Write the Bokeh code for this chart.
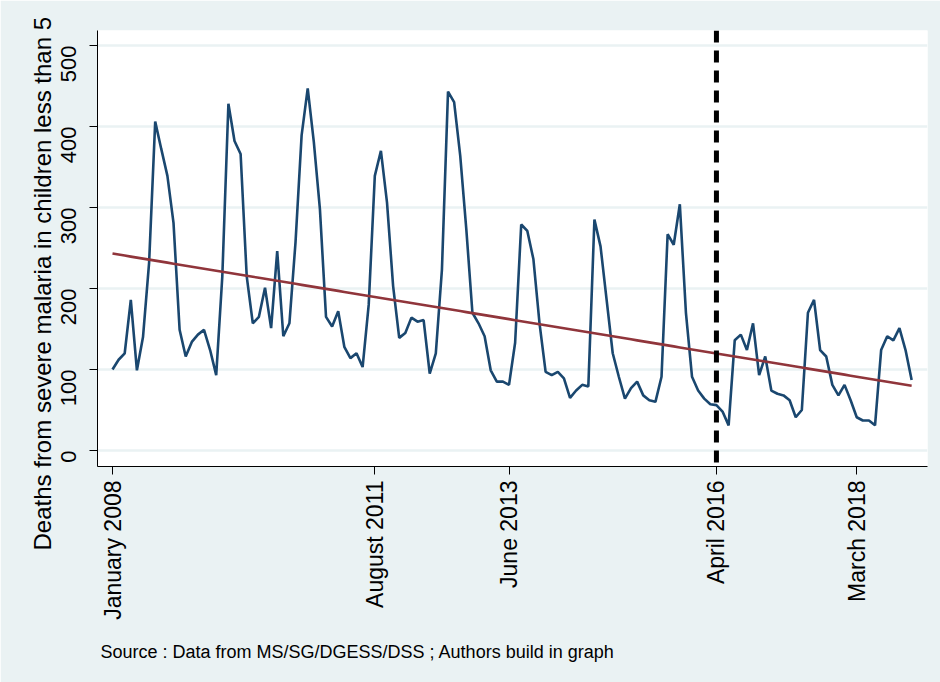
import numpy as np
from math import pi
from bokeh.plotting import figure
from bokeh.models import Span, Title, FixedTicker, Range1d
from bokeh.embed import file_html
from bokeh.resources import INLINE

# Monthly deaths from severe malaria in children under 5, January 2008 - December 2018
deaths = [100, 112, 120, 186, 99, 140, 232, 406, 372, 339, 281, 149,
          116, 134, 143, 149, 124, 93, 215, 428, 382, 366, 215, 157,
          165, 201, 151, 246, 141, 157, 257, 389, 447, 381, 298, 165,
          153, 172, 128, 114, 120, 103, 180, 339, 370, 306, 203, 139,
          145, 164, 159, 161, 95, 120, 223, 443, 430, 364, 273, 170,
          157, 141, 99, 85, 85, 81, 133, 279, 271, 236, 157, 97,
          93, 97, 89, 65, 74, 81, 79, 285, 252, 186, 120, 91,
          64, 77, 85, 68, 62, 60, 91, 267, 254, 304, 170, 91,
          74, 64, 57, 56, 48, 31, 136, 143, 124, 157, 93, 116,
          74, 70, 68, 62, 41, 50, 170, 186, 124, 116, 81, 68,
          81, 62, 41, 37, 37, 31, 124, 141, 136, 151, 124, 87]
months = list(range(len(deaths)))  # 0 = January 2008

tick_months = [0, 43, 65, 99, 122]
tick_labels = ["January 2008", "August 2011", "June 2013", "April 2016", "March 2018"]
y_ticks = [0, 100, 200, 300, 400, 500]
intervention_month = 99  # April 2016

y_title = "Deaths from severe malaria in children less than 5"
source_note = "Source : Data from MS/SG/DGESS/DSS ; Authors build in graph"

# Linear trend fitted to the series
slope, intercept = np.polyfit(months, deaths, 1)
trend = [intercept + slope * m for m in months]

BG = "#EAF2F3"
FONT = "Liberation Sans"

p = figure(width=940, height=682, output_backend="svg", toolbar_location=None,
           x_range=Range1d(-2.46, 133.6), y_range=Range1d(-19.8, 518.5),
           min_border_left=97, min_border_right=13, min_border_top=30,
           min_border_bottom=216)
p.border_fill_color = BG
p.background_fill_color = "white"
p.outline_line_color = None

p.line(months, deaths, line_color="#1A476F", line_width=2.6)
p.line(months, trend, line_color="#90353B", line_width=2.6)

p.add_layout(Span(location=intervention_month, dimension="height",
                  line_color="black", line_width=5, line_dash="12 8"))

# axes
for ax in (p.xaxis[0], p.yaxis[0]):
    ax.axis_line_color = "black"
    ax.axis_line_width = 1
    ax.major_tick_line_color = "black"
    ax.major_tick_in = 0
    ax.major_tick_out = 8
    ax.minor_tick_line_color = None
    ax.major_label_text_font = FONT
    ax.major_label_text_color = "black"
    ax.major_label_orientation = pi / 2

p.yaxis.ticker = FixedTicker(ticks=y_ticks)
p.yaxis.major_label_text_font_size = "22px"
p.yaxis.major_label_standoff = 21

p.xaxis.ticker = FixedTicker(ticks=tick_months)
p.xaxis.major_label_overrides = {m: lab for m, lab in zip(tick_months, tick_labels)}
p.xaxis.major_label_text_font_size = "23px"
p.xaxis.major_label_standoff = 6

p.xgrid.grid_line_color = None
p.ygrid.grid_line_color = BG
p.ygrid.grid_line_width = 2.5

p.add_layout(Title(text=y_title, align="left", offset=-84, standoff=-10,
                   text_font=FONT, text_font_size="24px",
                   text_font_style="normal", text_color="black"), "left")

p.add_layout(Title(text=source_note, align="left", offset=3, standoff=34,
                   text_font=FONT, text_font_size="18px",
                   text_font_style="normal", text_color="black"), "below")

open("out.html", "w").write(file_html(p, INLINE))
